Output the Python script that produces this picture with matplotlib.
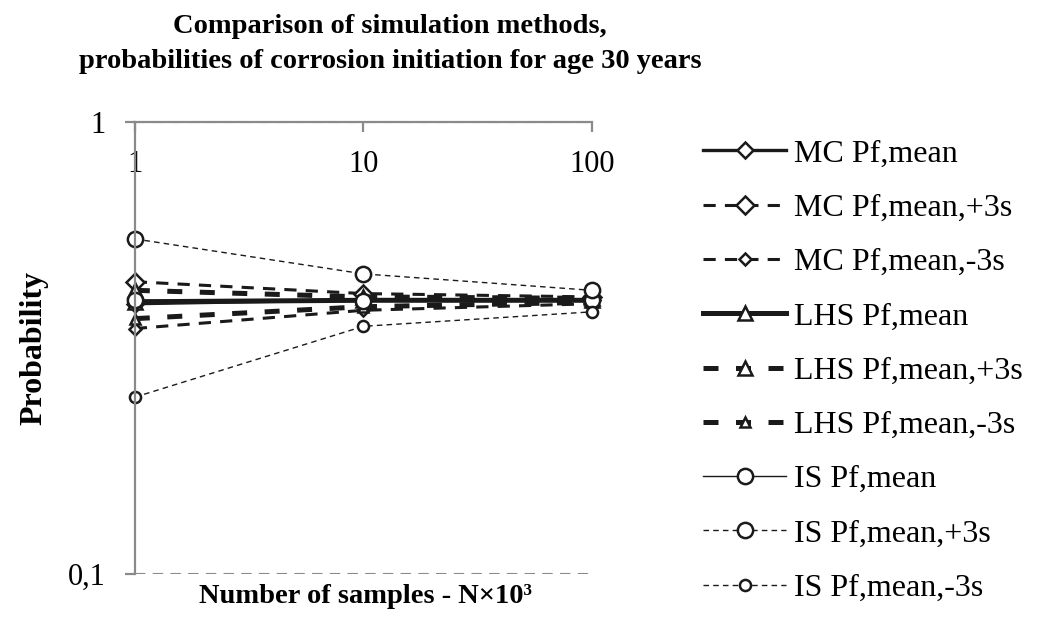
import matplotlib
matplotlib.use("Agg")
import matplotlib.pyplot as plt

plt.rcParams['font.family'] = ['Liberation Serif', 'DejaVu Serif']

# number of samples (thousands)
samples = [1, 10, 100]

mc_mean = [0.396, 0.404, 0.403]
mc_plus = [0.443, 0.417, 0.410]
mc_minus = [0.349, 0.383, 0.396]
lhs_mean = [0.400, 0.403, 0.403]
lhs_plus = [0.424, 0.410, 0.407]
lhs_minus = [0.367, 0.390, 0.399]
is_mean = [0.403, 0.402, 0.404]
is_plus = [0.551, 0.461, 0.424]
is_minus = [0.246, 0.353, 0.380]

labels = ['MC Pf,mean', 'MC Pf,mean,+3s', 'MC Pf,mean,-3s',
          'LHS Pf,mean', 'LHS Pf,mean,+3s', 'LHS Pf,mean,-3s',
          'IS Pf,mean', 'IS Pf,mean,+3s', 'IS Pf,mean,-3s']

gray = '#8a8a8a'

fig = plt.figure(figsize=(10.37, 6.19), dpi=100)
ax = fig.add_axes([0.130, 0.073, 0.441, 0.730])

series = [
    (mc_mean, dict(ls='-', lw=2.4, marker='D', ms=8)),
    (mc_plus, dict(ls=(0, (4, 3)), lw=2.2, marker='D', ms=9)),
    (mc_minus, dict(ls=(0, (4, 3)), lw=2.2, marker='D', ms=6.5)),
    (lhs_mean, dict(ls='-', lw=3.6, marker='^', ms=10)),
    (lhs_plus, dict(ls=(0, (3, 3.5)), lw=3.6, marker='^', ms=10)),
    (lhs_minus, dict(ls=(0, (3, 3.5)), lw=3.6, marker='^', ms=7)),
    (is_mean, dict(ls='-', lw=1.0, marker='o', ms=11)),
    (is_plus, dict(ls=(0, (4, 3)), lw=1.0, marker='o', ms=11)),
    (is_minus, dict(ls=(0, (4, 3)), lw=1.0, marker='o', ms=8)),
]
for (vals, kw), lab in zip(series, labels):
    ax.plot(samples, vals, color='#1a1a1a', mfc='white', mec='#1a1a1a',
            mew=1.8, label=lab, clip_on=False, **kw)

ax.set_xscale('log')
ax.set_yscale('log')
ax.set_xlim(1, 100)
ax.set_ylim(0.1, 1)
ax.minorticks_off()
ax.set_xticks(samples)
ax.set_xticklabels(['1', '10', '100'])
ax.set_yticks([0.1, 1])
ax.set_yticklabels(['0,1', '1'])

for s in ['right', 'bottom']:
    ax.spines[s].set_visible(False)
for s in ['left', 'top']:
    ax.spines[s].set_color(gray)
    ax.spines[s].set_linewidth(1.6)

ax.tick_params(axis='x', top=True, bottom=False, labeltop=True, labelbottom=False,
               direction='in', length=7, width=1.6, color=gray, pad=-41,
               labelsize=22)
ax.tick_params(axis='y', direction='out', length=7, width=1.6, color=gray,
               pad=14, labelsize=22)
ax.grid(axis='y', which='major', ls=(0, (5, 3.5)), color=gray, lw=1.5)
ax.grid(axis='x', visible=False)

ax.set_ylabel('Probability', fontsize=23, fontweight='bold', labelpad=14)
fig.text(0.352, 0.036, 'Number of samples - N×10³', ha='center', va='center',
         fontsize=20.5, fontweight='bold')
fig.text(0.376, 0.978, 'Comparison of simulation methods,\n'
         'probabilities of corrosion initiation for age 30 years',
         ha='center', va='top', fontsize=20.5, fontweight='bold', linespacing=1.55)

ax.legend(loc='upper left', bbox_to_anchor=(0.678, 0.775),
          bbox_transform=fig.transFigure, frameon=False, fontsize=23,
          handlelength=2.6, handletextpad=0.25, labelspacing=0.78,
          borderpad=0, borderaxespad=0)

fig.savefig('out.png', dpi=100)
